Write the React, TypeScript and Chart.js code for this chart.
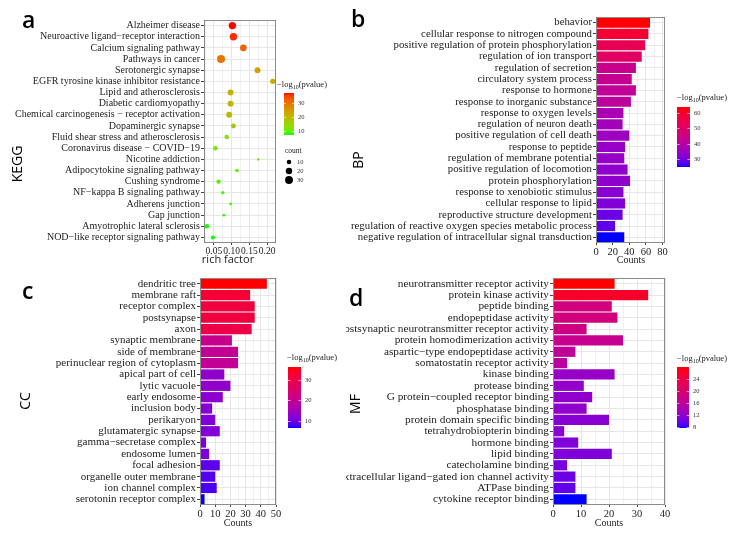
import React, { useEffect, useRef } from "react";
import { Chart, registerables } from "chart.js";
Chart.register(...registerables);

// ---------------- DATA ----------------
const keggTerms = [
  "Alzheimer disease",
  "Neuroactive ligand−receptor interaction",
  "Calcium signaling pathway",
  "Pathways in cancer",
  "Serotonergic synapse",
  "EGFR tyrosine kinase inhibitor resistance",
  "Lipid and atherosclerosis",
  "Diabetic cardiomyopathy",
  "Chemical carcinogenesis − receptor activation",
  "Dopaminergic synapse",
  "Fluid shear stress and atherosclerosis",
  "Coronavirus disease − COVID−19",
  "Nicotine addiction",
  "Adipocytokine signaling pathway",
  "Cushing syndrome",
  "NF−kappa B signaling pathway",
  "Adherens junction",
  "Gap junction",
  "Amyotrophic lateral sclerosis",
  "NOD−like receptor signaling pathway",
];
const keggRichFactor = [0.102, 0.105, 0.133, 0.07, 0.173, 0.216, 0.097, 0.097, 0.093, 0.105, 0.086, 0.054, 0.175, 0.115, 0.063, 0.075, 0.097, 0.078, 0.03, 0.047];
const keggCount = [26, 26, 21, 31, 17, 14, 17, 17, 17, 12, 10, 10, 3, 6, 9, 6, 4, 4, 10, 8];
const keggLogP = [37.1, 36, 32, 30, 24, 22, 21, 21, 20, 17, 13, 11, 10, 9.5, 9, 9, 8.5, 8, 7.3, 7.1];

const bpTerms = [
  "behavior",
  "cellular response to nitrogen compound",
  "positive regulation of protein phosphorylation",
  "regulation of ion transport",
  "regulation of secretion",
  "circulatory system process",
  "response to hormone",
  "response to inorganic substance",
  "response to oxygen levels",
  "regulation of neuron death",
  "positive regulation of cell death",
  "response to peptide",
  "regulation of membrane potential",
  "positive regulation of locomotion",
  "protein phosphorylation",
  "response to xenobiotic stimulus",
  "cellular response to lipid",
  "reproductive structure development",
  "regulation of reactive oxygen species metabolic process",
  "negative regulation of intracellular signal transduction",
];
const bpCounts = [65, 63, 59, 55, 48, 43, 48, 42, 33, 32, 40, 35, 34, 38, 41, 33, 35, 32, 23, 34];
const bpLogP = [64, 59, 54, 51, 44, 43, 42, 41, 37, 36, 35, 34, 34, 33, 33, 32, 31, 29, 28, 24.7];

const ccTerms = [
  "dendritic tree",
  "membrane raft",
  "receptor complex",
  "postsynapse",
  "axon",
  "synaptic membrane",
  "side of membrane",
  "perinuclear region of cytoplasm",
  "apical part of cell",
  "lytic vacuole",
  "early endosome",
  "inclusion body",
  "perikaryon",
  "glutamatergic synapse",
  "gamma−secretase complex",
  "endosome lumen",
  "focal adhesion",
  "organelle outer membrane",
  "ion channel complex",
  "serotonin receptor complex",
];
const ccCounts = [44, 33, 36, 36, 34, 21, 25, 25, 16, 20, 15, 8, 10, 13, 4, 6, 13, 10, 11, 3];
const ccLogP = [36.3, 32, 31, 31, 30, 21, 20, 20, 13, 13, 12.5, 12, 11.5, 11.5, 11, 11, 9, 8.5, 8, 6.6];

const mfTerms = [
  "neurotransmitter receptor activity",
  "protein kinase activity",
  "peptide binding",
  "endopeptidase activity",
  "postsynaptic neurotransmitter receptor activity",
  "protein homodimerization activity",
  "aspartic−type endopeptidase activity",
  "somatostatin receptor activity",
  "kinase binding",
  "protease binding",
  "G protein−coupled receptor binding",
  "phosphatase binding",
  "protein domain specific binding",
  "tetrahydrobiopterin binding",
  "hormone binding",
  "lipid binding",
  "catecholamine binding",
  "extracellular ligand−gated ion channel activity",
  "ATPase binding",
  "cytokine receptor binding",
];
const mfCounts = [22, 34, 21, 23, 12, 25, 8, 5, 22, 11, 14, 12, 20, 4, 9, 21, 5, 8, 8, 12];
const mfLogP = [28, 26, 19, 19, 18.5, 17.5, 16.5, 16, 12.5, 12.3, 12, 12, 11.5, 11.5, 11, 11, 10.5, 10, 9.5, 7.8];

// tick labels
const keggXTicks = [0.05, 0.1, 0.15, 0.2];
const keggXMinor = [0.025, 0.075, 0.125, 0.175];
const bpXTicks = [0, 20, 40, 60, 80];
const bpXMinor = [10, 30, 50, 70];
const ccXTicks = [0, 10, 20, 30, 40, 50];
const ccXMinor = [5, 15, 25, 35, 45];
const mfXTicks = [0, 10, 20, 30, 40];
const mfXMinor = [5, 15, 25, 35];
const keggLegendTicks = [10, 20, 30];
const countLegendValues = [10, 20, 30];
const bpLegendTicks = [30, 40, 50, 60];
const ccLegendTicks = [10, 20, 30];
const mfLegendTicks = [8, 12, 16, 20, 24];

// ---------------- HELPERS ----------------
const W = 734;
const H = 533;
const SERIF = '"Liberation Serif", "Times New Roman", serif';
const SANS = '"Open Sans", "DejaVu Sans", sans-serif';
const XAXIS_H = 20;
const TEXT = "#222";

function hexRgb(h: string) {
  return [parseInt(h.slice(1, 3), 16), parseInt(h.slice(3, 5), 16), parseInt(h.slice(5, 7), 16)];
}
const toLin = (c: number) => {
  c /= 255;
  return c <= 0.04045 ? c / 12.92 : Math.pow((c + 0.055) / 1.055, 2.4);
};
const fromLin = (c: number) => {
  const v = c <= 0.0031308 ? 12.92 * c : 1.055 * Math.pow(Math.max(c, 0), 1 / 2.4) - 0.055;
  return Math.round(Math.min(1, Math.max(0, v)) * 255);
};
const Xn = 0.95047, Yn = 1, Zn = 1.08883;
const EPS = 216 / 24389, KAP = 24389 / 27;
function rgbToLab(rgb: number[]) {
  const [r, g, b] = rgb.map(toLin);
  const X = (0.4124564 * r + 0.3575761 * g + 0.1804375 * b) / Xn;
  const Y = (0.2126729 * r + 0.7151522 * g + 0.072175 * b) / Yn;
  const Z = (0.0193339 * r + 0.119192 * g + 0.9503041 * b) / Zn;
  const f = (t: number) => (t > EPS ? Math.cbrt(t) : (KAP * t + 16) / 116);
  const fx = f(X), fy = f(Y), fz = f(Z);
  return [116 * fy - 16, 500 * (fx - fy), 200 * (fy - fz)];
}
function labToRgb(lab: number[]) {
  const [L, a, b] = lab;
  const fy = (L + 16) / 116;
  const fx = fy + a / 500;
  const fz = fy - b / 200;
  const inv = (t: number) => (t * t * t > EPS ? t * t * t : (116 * t - 16) / KAP);
  const X = inv(fx) * Xn, Y = inv(fy) * Yn, Z = inv(fz) * Zn;
  const r = 3.2404542 * X - 1.5371385 * Y - 0.4985314 * Z;
  const g = -0.969266 * X + 1.8760108 * Y + 0.041556 * Z;
  const bb = 0.0556434 * X - 0.2040259 * Y + 1.0572252 * Z;
  return [fromLin(r), fromLin(g), fromLin(bb)];
}
function makeScale(low: string, high: string, vals: number[]) {
  const lo = rgbToLab(hexRgb(low));
  const hi = rgbToLab(hexRgb(high));
  const min = Math.min(...vals);
  const max = Math.max(...vals);
  const fn = (v: number) => {
    const t = Math.min(1, Math.max(0, (v - min) / (max - min)));
    const c = labToRgb([0, 1, 2].map((i) => lo[i] + (hi[i] - lo[i]) * t));
    return `rgb(${c[0]},${c[1]},${c[2]})`;
  };
  return { fn, min, max };
}
const sizeFn = (c: number) => 0.72 * Math.sqrt(c);
const near = (arr: number[], v: number) => arr.some((t) => Math.abs(t - v) < 1e-9);

function extrasPlugin(spec: any) {
  return {
    id: "extras",
    afterDraw(chart: any) {
      const ctx = chart.ctx as CanvasRenderingContext2D;
      const a = chart.chartArea;
      ctx.save();
      // panel border
      ctx.strokeStyle = "#8c8c8c";
      ctx.lineWidth = 1;
      ctx.strokeRect(Math.round(a.left) + 0.5, Math.round(a.top) + 0.5, Math.round(a.right - a.left) - 1, Math.round(a.bottom - a.top) - 1);
      // panel letter
      ctx.fillStyle = "#000";
      ctx.font = `600 23px ${SANS}`;
      ctx.textAlign = "left";
      ctx.textBaseline = "alphabetic";
      ctx.fillText(spec.letter.text, spec.letter.x, spec.letter.y);
      // y title
      ctx.save();
      ctx.translate(spec.yTitle.x, spec.yTitle.y);
      ctx.rotate(-Math.PI / 2);
      ctx.font = `14px ${SANS}`;
      ctx.textAlign = "center";
      ctx.textBaseline = "middle";
      ctx.fillText(spec.yTitle.text, 0, 0);
      ctx.restore();
      // x title
      ctx.font = spec.xTitle.font;
      ctx.fillStyle = TEXT;
      ctx.textAlign = "center";
      ctx.textBaseline = "middle";
      ctx.fillText(spec.xTitle.text, spec.xTitle.x, spec.xTitle.y);
      // colorbar
      const cb = spec.colorbar;
      const grad = ctx.createLinearGradient(0, cb.y + cb.h, 0, cb.y);
      for (let i = 0; i <= 40; i++) {
        const v = cb.scale.min + ((cb.scale.max - cb.scale.min) * i) / 40;
        grad.addColorStop(i / 40, cb.scale.fn(v));
      }
      ctx.fillStyle = grad;
      ctx.fillRect(cb.x, cb.y, cb.w, cb.h);
      ctx.font = `6.5px ${SERIF}`;
      ctx.textAlign = "left";
      ctx.textBaseline = "middle";
      cb.ticks.forEach((t: number) => {
        const y = Math.round(cb.y + cb.h - ((t - cb.scale.min) / (cb.scale.max - cb.scale.min)) * cb.h) + 0.5;
        ctx.strokeStyle = "rgba(255,255,255,0.75)";
        ctx.lineWidth = 0.8;
        ctx.beginPath();
        ctx.moveTo(cb.x, y);
        ctx.lineTo(cb.x + cb.w * 0.2, y);
        ctx.moveTo(cb.x + cb.w * 0.8, y);
        ctx.lineTo(cb.x + cb.w, y);
        ctx.stroke();
        ctx.fillStyle = "#333";
        ctx.fillText(String(t), cb.x + cb.w + 4, y);
      });
      // colorbar title  -log10(pvalue)
      ctx.fillStyle = TEXT;
      ctx.textBaseline = "alphabetic";
      ctx.font = `8.5px ${SERIF}`;
      let tx = cb.titleX;
      ctx.fillText("−log", tx, cb.titleY);
      tx += ctx.measureText("−log").width;
      ctx.font = `6px ${SERIF}`;
      ctx.fillText("10", tx, cb.titleY + 2);
      tx += ctx.measureText("10").width;
      ctx.font = `8.5px ${SERIF}`;
      ctx.fillText("(pvalue)", tx, cb.titleY);
      // size legend
      if (spec.sizeLegend) {
        const s = spec.sizeLegend;
        ctx.font = `7.5px ${SERIF}`;
        ctx.fillText("count", s.titleX, s.titleY);
        s.values.forEach((v: number, i: number) => {
          ctx.fillStyle = "#000";
          ctx.beginPath();
          ctx.arc(s.x, s.ys[i], sizeFn(v), 0, Math.PI * 2);
          ctx.fill();
          ctx.fillStyle = "#333";
          ctx.font = `6.5px ${SERIF}`;
          ctx.textBaseline = "middle";
          ctx.fillText(String(v), s.labelX, s.ys[i]);
        });
      }
      ctx.restore();
    },
  };
}

function xScaleOpts(min: number, max: number, major: number[], minor: number[], fmt: (v: number) => string, fontSize: number) {
  return {
    type: "linear",
    min,
    max,
    afterBuildTicks: (s: any) => {
      s.ticks = [...major, ...minor].filter((v) => v >= min - 1e-9 && v <= max + 1e-9).sort((p, q) => p - q).map((v) => ({ value: v }));
    },
    afterFit: (s: any) => {
      s.height = XAXIS_H;
    },
    ticks: {
      autoSkip: false,
      maxRotation: 0,
      minRotation: 0,
      padding: 1,
      color: TEXT,
      font: { family: SERIF, size: fontSize },
      callback: (v: number) => (near(major, v) ? fmt(v) : ""),
    },
    grid: {
      color: (c: any) => (c.tick && near(major, c.tick.value) ? "#E6E6E6" : "#F1F1F1"),
      tickColor: (c: any) => (c.tick && near(major, c.tick.value) ? "#444" : "rgba(0,0,0,0)"),
      tickLength: 2,
      lineWidth: 1,
    },
    border: { display: false },
  };
}

function yScaleOpts(L: number, fontSize: number) {
  return {
    type: "category",
    offset: true,
    afterFit: (s: any) => {
      s.width = L;
    },
    ticks: {
      autoSkip: false,
      padding: 1,
      color: TEXT,
      font: { family: SERIF, size: fontSize },
    },
    grid: { offset: false, color: "#E6E6E6", tickColor: "#444", tickLength: 3 },
    border: { display: false },
  };
}

function layoutFor(area: any) {
  return { padding: { left: 0, top: area.T, right: W - area.R, bottom: H - area.B - XAXIS_H } };
}

// ---------------- CONFIGS ----------------
function keggConfig() {
  const area = { L: 204, R: 276, T: 20, B: 243 };
  const sc = makeScale("#00FF00", "#FF0000", keggLogP);
  return {
    type: "scatter",
    data: {
      labels: keggTerms,
      datasets: [
        {
          data: keggTerms.map((t, i) => ({ x: keggRichFactor[i], y: t })),
          pointRadius: keggCount.map(sizeFn),
          backgroundColor: keggLogP.map(sc.fn),
          borderWidth: 0,
        },
      ],
    },
    options: {
      responsive: false,
      animation: false,
      events: [],
      layout: layoutFor(area),
      plugins: { legend: { display: false }, tooltip: { enabled: false } },
      scales: {
        x: xScaleOpts(0.022, 0.225, keggXTicks, keggXMinor, (v) => v.toFixed(2), 9.5),
        y: { ...yScaleOpts(area.L, 10), labels: keggTerms },
      },
    },
    plugins: [
      extrasPlugin({
        letter: { text: "a", x: 22, y: 28 },
        yTitle: { text: "KEGG", x: 18, y: 164 },
        xTitle: { text: "rich factor", x: 228, y: 260, font: `11px ${SANS}` },
        colorbar: { x: 284, y: 93, w: 10, h: 42, scale: sc, ticks: keggLegendTicks, titleX: 277, titleY: 87 },
        sizeLegend: { titleX: 285, titleY: 153, x: 289, ys: [162, 171, 180], values: countLegendValues, labelX: 297 },
      }),
    ],
  };
}

function barConfig(p: any) {
  const sc = makeScale("#0000FF", "#FF0000", p.logP);
  return {
    type: "bar",
    data: {
      labels: p.terms,
      datasets: [
        {
          data: p.counts,
          backgroundColor: p.logP.map(sc.fn),
          borderWidth: 0,
          barPercentage: 0.9,
          categoryPercentage: 1,
        },
      ],
    },
    options: {
      responsive: false,
      animation: false,
      events: [],
      indexAxis: "y",
      layout: layoutFor(p.area),
      plugins: { legend: { display: false }, tooltip: { enabled: false } },
      scales: {
        x: xScaleOpts(0, p.xMax, p.xTicks, p.xMinor, (v) => String(v), 10.5),
        y: yScaleOpts(p.area.L, p.labelSize),
      },
    },
    plugins: [extrasPlugin({ ...p.extras, colorbar: { ...p.extras.colorbar, scale: sc } })],
  };
}

const bpConfig = () =>
  barConfig({
    terms: bpTerms,
    counts: bpCounts,
    logP: bpLogP,
    xMax: 83,
    xTicks: bpXTicks,
    xMinor: bpXMinor,
    area: { L: 596, R: 665, T: 17, B: 243 },
    labelSize: 10.8,
    extras: {
      letter: { text: "b", x: 351, y: 27 },
      yTitle: { text: "BP", x: 359, y: 160 },
      xTitle: { text: "Counts", x: 631, y: 260, font: `10px ${SERIF}` },
      colorbar: { x: 677, y: 107, w: 13, h: 60, ticks: bpLegendTicks, titleX: 677, titleY: 100 },
    },
  });

const ccConfig = () =>
  barConfig({
    terms: ccTerms,
    counts: ccCounts,
    logP: ccLogP,
    xMax: 50,
    xTicks: ccXTicks,
    xMinor: ccXMinor,
    area: { L: 200, R: 276, T: 278, B: 505 },
    labelSize: 11,
    extras: {
      letter: { text: "c", x: 22, y: 299 },
      yTitle: { text: "CC", x: 26, y: 401 },
      xTitle: { text: "Counts", x: 238, y: 523, font: `10px ${SERIF}` },
      colorbar: { x: 288, y: 367, w: 13, h: 61, ticks: ccLegendTicks, titleX: 287, titleY: 360 },
    },
  });

const mfConfig = () =>
  barConfig({
    terms: mfTerms,
    counts: mfCounts,
    logP: mfLogP,
    xMax: 40,
    xTicks: mfXTicks,
    xMinor: mfXMinor,
    area: { L: 553, R: 665, T: 278, B: 505 },
    labelSize: 11.3,
    extras: {
      letter: { text: "d", x: 349, y: 306 },
      yTitle: { text: "MF", x: 356, y: 404 },
      xTitle: { text: "Counts", x: 609, y: 523, font: `10px ${SERIF}` },
      colorbar: { x: 677, y: 367, w: 12, h: 61, ticks: mfLegendTicks, titleX: 677, titleY: 361 },
    },
  });

function Panel({ make, clip }: { make: () => any; clip?: string }) {
  const ref = useRef<HTMLCanvasElement>(null);
  useEffect(() => {
    const chart = new Chart(ref.current as HTMLCanvasElement, make());
    return () => chart.destroy();
  }, []);
  return (
    <canvas
      ref={ref}
      width={W}
      height={H}
      style={{ position: "absolute", left: 0, top: 0, width: W, height: H, clipPath: clip }}
    />
  );
}

export default function App() {
  return (
    <div style={{ position: "absolute", left: 0, top: 0, width: W, height: H, background: "#fff", overflow: "hidden" }}>
      <Panel make={keggConfig} />
      <Panel make={bpConfig} />
      <Panel make={ccConfig} />
      <Panel make={mfConfig} clip="inset(0px 0px 0px 346px)" />
    </div>
  );
}
